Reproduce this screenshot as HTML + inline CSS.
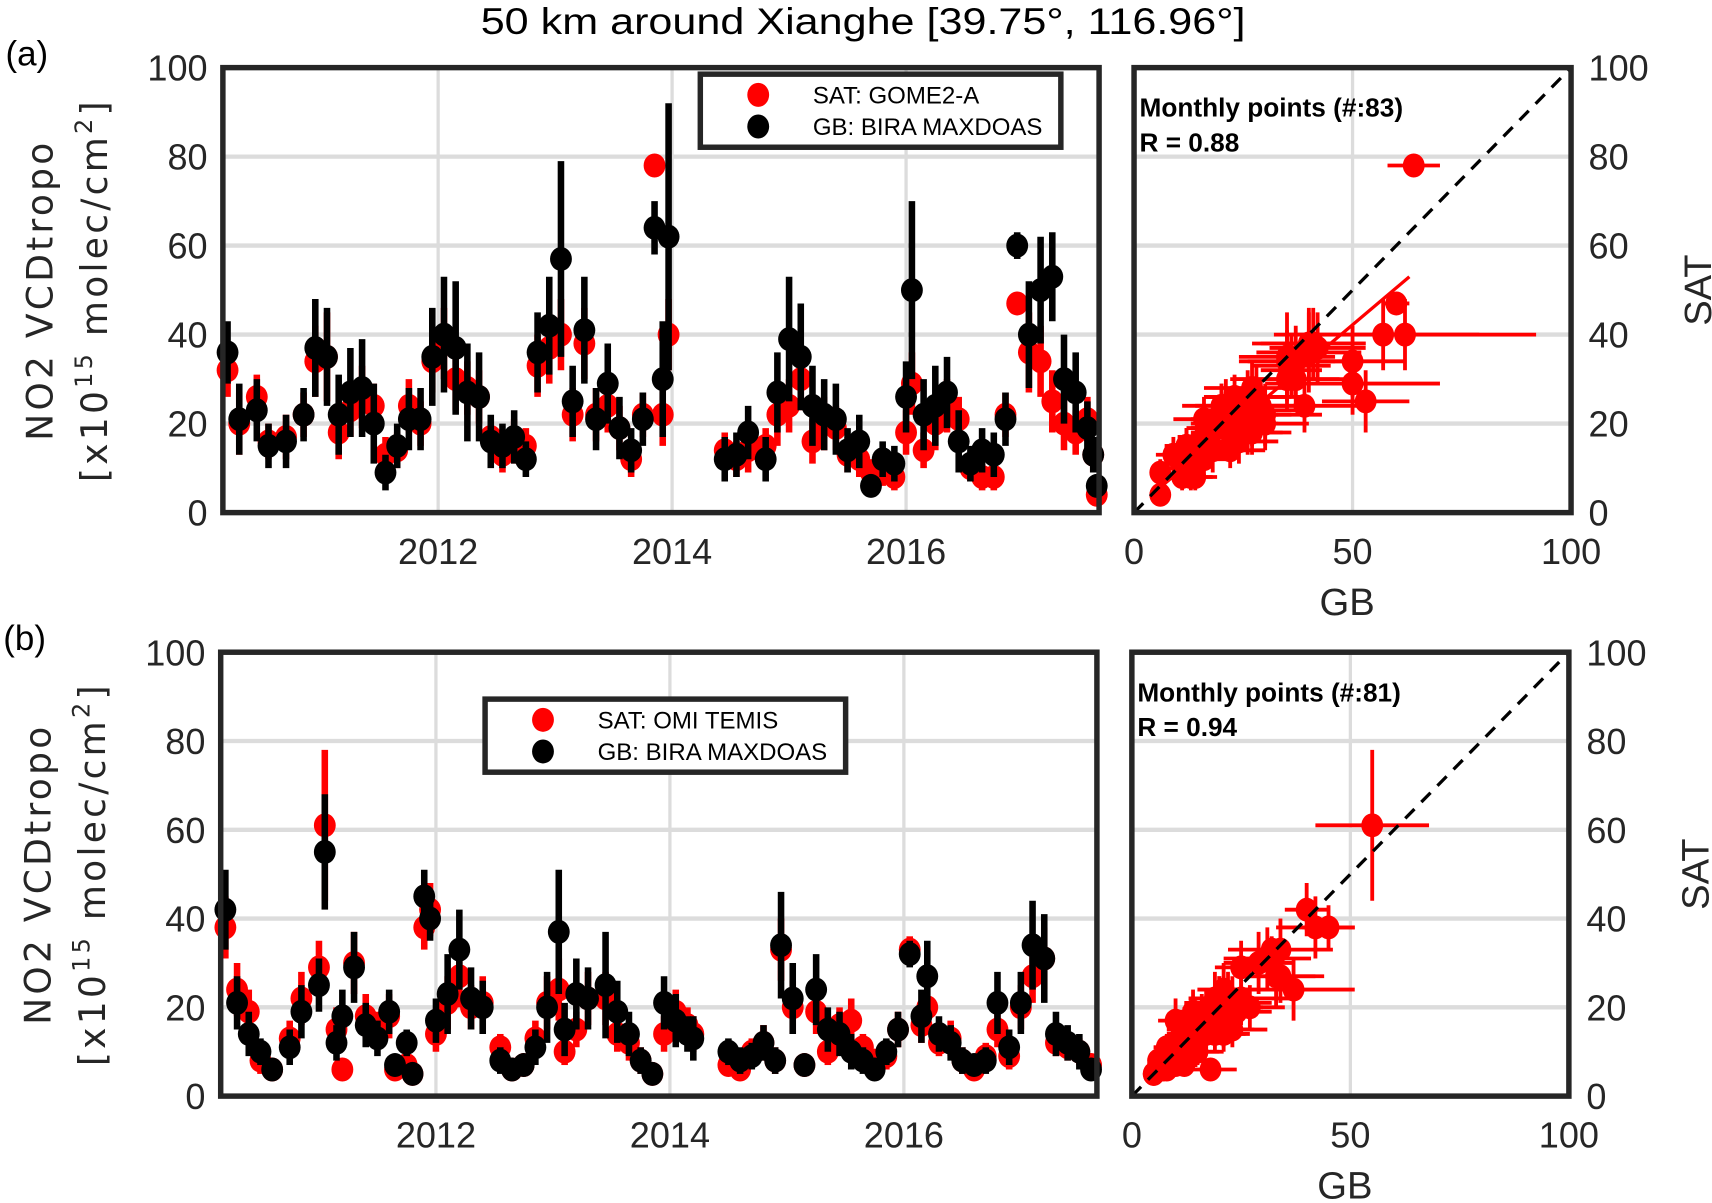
<!DOCTYPE html>
<html><head><meta charset="utf-8"><style>
html,body{margin:0;padding:0;background:#fff;width:1712px;height:1203px;overflow:hidden}
svg{display:block}
text{font-family:"Liberation Sans",sans-serif;fill:#262626}
</style></head><body>
<svg id="fig" width="1712" height="1203" viewBox="0 0 1567 1103" preserveAspectRatio="none" xmlns="http://www.w3.org/2000/svg">
<text x="440" y="31" textLength="700" lengthAdjust="spacingAndGlyphs" font-size="34" style="fill:#000">50 km around Xianghe [39.75°, 116.96°]</text>
<text x="5" y="60" font-size="32" style="fill:#000">(a)</text>
<text x="3" y="596" font-size="32" style="fill:#000">(b)</text>
</svg>
<script>
// ---- Panel (a) data: GOME2-A vs BIRA MAXDOAS ----
const datesA=[2010.2,2010.3,2010.45,2010.55,2010.7,2010.85,2010.95,2011.05,2011.15,2011.25,2011.35,2011.45,2011.55,2011.65,2011.75,2011.85,2011.95,2012.05,2012.15,2012.25,2012.35,2012.45,2012.55,2012.65,2012.75,2012.85,2012.95,2013.05,2013.15,2013.25,2013.35,2013.45,2013.55,2013.65,2013.75,2013.85,2013.92,2013.97,2014.45,2014.55,2014.65,2014.8,2014.9,2015.0,2015.1,2015.2,2015.3,2015.4,2015.5,2015.6,2015.7,2015.8,2015.9,2016.0,2016.05,2016.15,2016.25,2016.35,2016.45,2016.55,2016.65,2016.75,2016.85,2016.95,2017.05,2017.15,2017.25,2017.35,2017.45,2017.55,2017.6,2017.63];
const satA=[32,20,26,16,17,22,34,35,18,23,26,24,13,14,24,20,34,38,30,28,26,17,13,16,15,33,37,40,22,38,22,24,19,12,22,78,22,40,14,12,14,15,22,24,30,16,20,19,13,12,9,10,8,18,29,14,20,24,21,10,8,8,22,47,36,34,25,20,18,21,13,4];
const satErrA=[6,7,5,4,5,5,8,10,6,6,7,5,4,4,6,5,7,8,7,6,6,4,4,5,4,7,8,8,6,8,6,6,5,4,5,0,7,8,4,4,5,4,7,6,7,5,6,5,4,4,3,4,3,5,7,4,6,6,5,3,3,3,5,0,9,8,7,6,5,5,4,2];
const gbA=[36,21,23,15,16,22,37,35,22,27,28,20,9,15,21,21,35,40,37,27,26,16,15,17,12,36,42,57,25,41,21,29,19,14,21,64,30,62,12,13,18,12,27,39,35,24,22,21,14,16,6,12,11,26,50,22,24,27,16,11,14,13,21,60,40,50,53,30,27,19,13,6];
const gbErrA=[7,8,7,5,6,6,11,11,9,10,11,9,4,5,7,7,11,13,15,11,10,6,5,6,4,9,11,22,8,12,7,9,7,5,6,6,13,30,5,5,6,5,9,14,12,9,8,8,5,6,2,4,4,8,20,8,9,8,7,4,5,5,6,3,12,12,10,10,9,6,4,2];
// ---- Panel (b) data: OMI TEMIS vs BIRA MAXDOAS ----
const datesB=[2010.2,2010.3,2010.4,2010.5,2010.6,2010.75,2010.85,2011.0,2011.05,2011.15,2011.2,2011.3,2011.4,2011.5,2011.6,2011.65,2011.75,2011.8,2011.9,2011.95,2012.0,2012.1,2012.2,2012.3,2012.4,2012.55,2012.65,2012.75,2012.85,2012.95,2013.05,2013.1,2013.2,2013.3,2013.45,2013.55,2013.65,2013.75,2013.85,2013.95,2014.05,2014.15,2014.2,2014.5,2014.6,2014.7,2014.8,2014.9,2014.95,2015.05,2015.15,2015.25,2015.35,2015.45,2015.55,2015.65,2015.75,2015.85,2015.95,2016.05,2016.15,2016.2,2016.3,2016.4,2016.5,2016.6,2016.7,2016.8,2016.9,2017.0,2017.1,2017.2,2017.3,2017.4,2017.5,2017.6];
const satB=[38,24,19,8,6,13,22,29,61,15,6,30,18,15,18,6,7,5,38,42,14,21,27,20,21,11,6,7,13,21,24,10,15,22,22,14,12,8,5,14,19,16,14,7,6,10,12,8,33,20,7,19,10,16,17,11,8,9,15,33,16,20,12,13,8,6,9,15,9,20,27,31,12,11,10,7];
const satErrB=[7,6,5,3,2,4,6,6,17,5,2,7,5,4,5,2,2,2,5,6,4,6,7,5,6,3,2,2,4,6,7,3,4,6,6,4,4,3,2,4,5,4,4,2,2,3,4,3,7,6,2,5,3,4,5,3,2,3,4,3,4,5,3,4,3,2,3,4,3,5,6,7,3,3,3,2];
const gbB=[42,21,14,10,6,11,19,25,55,12,18,29,16,13,19,7,12,5,45,40,17,23,33,22,20,8,6,7,11,20,37,15,23,22,25,19,14,8,5,21,17,14,13,10,8,9,12,8,34,22,7,24,15,14,10,8,6,10,15,32,18,27,14,12,8,7,8,21,11,21,34,31,14,12,10,6];
const gbErrB=[9,6,5,3,2,4,6,6,13,4,6,8,5,4,5,2,3,2,6,5,5,9,9,7,6,3,2,2,4,8,14,6,8,7,12,7,5,3,2,6,6,4,5,3,3,3,4,3,12,8,2,8,5,5,4,3,2,3,4,3,6,8,4,4,3,2,3,7,4,7,10,10,5,4,4,2];

const NS="http://www.w3.org/2000/svg";
const fig=document.getElementById('fig');
function mk(tag,attrs,parent){const e=document.createElementNS(NS,tag);for(const k in attrs)e.setAttribute(k,attrs[k]);(parent||fig).appendChild(e);return e;}
const RED="#ff0000", BLK="#000000", GRID="#dcdcdc", AX="#262626";
const TF=33;

function drawPanel(p){
  const tx=t=>p.x0+(t-p.t0)/(p.t1-p.t0)*(p.x1-p.x0);
  const vy=v=>p.y1-v/100*(p.y1-p.y0);
  const g=mk('g',{});
  
  
  [20,40,60,80].forEach(v=>{const l=mk('line',{x1:p.x0,x2:p.x1,y1:vy(v),y2:vy(v),stroke:GRID,'stroke-width':4},g);
    
    });
  [2012,2014,2016].forEach(y=>{const l=mk('line',{x1:tx(y),x2:tx(y),y1:p.y0,y2:p.y1,stroke:GRID,'stroke-width':3},g);
    
    
    const t=mk('text',{x:tx(y),y:p.y1+47,'text-anchor':'middle','font-size':TF},g);t.textContent=y;
    
    });
  [0,20,40,60,80,100].forEach(v=>{const t=mk('text',{x:p.x0-14,y:vy(v)+12,'text-anchor':'end','font-size':TF},g);t.textContent=v;
    
    });
  const ser=(vals,errs,col,name)=>{
    const sg=mk('g',{},g);
    
    
    p.d.forEach((t,i)=>{const e=mk('line',{x1:tx(t),x2:tx(t),y1:vy(Math.max(0,vals[i]-errs[i])),y2:vy(vals[i]+errs[i]),stroke:col,'stroke-width':6},sg);
      
      });
    p.d.forEach((t,i)=>{const c=mk('ellipse',{cx:tx(t),cy:vy(vals[i]),rx:10,ry:11,fill:col},sg);
      
      });
  };
  ser(p.sat,p.satErr,RED,'sat-series');
  ser(p.gb,p.gbErr,BLK,'gb-series');
  const fr=mk('rect',{x:p.x0,y:p.y0,width:p.x1-p.x0,height:p.y1-p.y0,fill:'none',stroke:AX,'stroke-width':5},g);
  
  
  const yt=mk('text',{transform:`translate(${p.ylx},${(p.y0+p.y1)/2}) rotate(-90)`,'text-anchor':'middle','font-size':33,style:'font-family:"DejaVu Sans",sans-serif;letter-spacing:3px'},g);
  
  
  yt.textContent='NO2 VCDtropo';
  const yt2=mk('text',{transform:`translate(${p.ylx+50},${(p.y0+p.y1)/2}) rotate(-90)`,'text-anchor':'middle','font-size':33,style:'font-family:"DejaVu Sans",sans-serif;letter-spacing:3px'},g);
  
  
  yt2.innerHTML='[x10<tspan dy="-14" font-size="22">15</tspan><tspan dy="14"> molec/cm</tspan><tspan dy="-14" font-size="22">2</tspan><tspan dy="14">]</tspan>';
  const lg=mk('g',{},g);
  
  
  mk('rect',{x:p.lx,y:p.ly,width:330,height:67,fill:'#fff',stroke:AX,'stroke-width':5},lg);
  [[RED,p.satLabel,19],[BLK,'GB: BIRA MAXDOAS',48]].forEach(([c,l,dy])=>{
    const ent=mk('g',{},lg);
    
    
    mk('ellipse',{cx:p.lx+53,cy:p.ly+dy,rx:10,ry:11,fill:c},ent);
    const t=mk('text',{x:p.lx+103,y:p.ly+dy+8,'font-size':22},ent);t.textContent=l;t.style.fill='#000';
  });

  const sx=v=>p.sx0+v/100*(p.sx1-p.sx0);
  const sg=mk('g',{});
  
  
  [20,40,60,80].forEach(v=>{const l=mk('line',{x1:p.sx0,x2:p.sx1,y1:vy(v),y2:vy(v),stroke:GRID,'stroke-width':4},sg);
    
    });
  [50].forEach(v=>{const l=mk('line',{x1:sx(v),x2:sx(v),y1:p.y0,y2:p.y1,stroke:GRID,'stroke-width':3},sg);
    
    });
  [0,50,100].forEach(v=>{const t=mk('text',{x:sx(v),y:p.y1+47,'text-anchor':'middle','font-size':TF},sg);t.textContent=v;
    
    });
  [0,20,40,60,80,100].forEach(v=>{const t=mk('text',{x:p.sx1+16,y:vy(v)+12,'font-size':TF},sg);t.textContent=v;
    
    });
  p.gb.forEach((x,i)=>{
    const y=p.sat[i];
    const h=mk('line',{x1:sx(Math.max(0,x-p.gbErr[i])),x2:sx(x+p.gbErr[i]),y1:vy(y),y2:vy(y),stroke:RED,'stroke-width':3.5},sg);
    
    
    const v=mk('line',{x1:sx(x),x2:sx(x),y1:vy(Math.max(0,y-p.satErr[i])),y2:vy(y+p.satErr[i]),stroke:RED,'stroke-width':3.5},sg);
    
    
  });
  if(p.fit){const f=mk('line',{x1:sx(p.fit[0]),y1:vy(p.fit[1]),x2:sx(p.fit[2]),y2:vy(p.fit[3]),stroke:RED,'stroke-width':3},sg);
    
    }
  p.gb.forEach((x,i)=>{const c=mk('ellipse',{cx:sx(x),cy:vy(p.sat[i]),rx:10,ry:11,fill:RED},sg);
    
    });
  const dl=mk('line',{x1:sx(0),y1:vy(0),x2:sx(100),y2:vy(100),stroke:'#000','stroke-width':3,'stroke-dasharray':'12 9'},sg);
  
  
  const sf=mk('rect',{x:p.sx0,y:p.y0,width:p.sx1-p.sx0,height:p.y1-p.y0,fill:'none',stroke:AX,'stroke-width':5},sg);
  
  
  const a1=mk('text',{x:p.sx0+5,y:p.y0+45,'font-size':24,'font-weight':'bold'},sg);a1.textContent=p.count;a1.style.fill='#000';
  
  
  const a2=mk('text',{x:p.sx0+5,y:p.y0+77,'font-size':24,'font-weight':'bold'},sg);a2.textContent=p.r;a2.style.fill='#000';
  
  
  const gx=mk('text',{x:sx(50)-5,y:p.y1+94,'text-anchor':'middle','font-size':35},sg);gx.textContent='GB';
  
  
  const sy=mk('text',{transform:`translate(${p.sx1+128},${(p.y0+p.y1)/2}) rotate(-90)`,'text-anchor':'middle','font-size':35},sg);sy.textContent='SAT';
  
  
}

drawPanel({id:'panel-a',x0:204,x1:1006,y0:62,y1:470,t0:2010.16,t1:2017.65,d:datesA,sat:satA,satErr:satErrA,gb:gbA,gbErr:gbErrA,
  ylx:48,lx:641,ly:68,satLabel:'SAT: GOME2-A',sx0:1038,sx1:1438,count:'Monthly points (#:83)',r:'R = 0.88',fit:[4,4,63,53]});
drawPanel({id:'panel-b',x0:202,x1:1004,y0:598,y1:1005,t0:2010.16,t1:2017.65,d:datesB,sat:satB,satErr:satErrB,gb:gbB,gbErr:gbErrB,
  ylx:46,lx:444,ly:641,satLabel:'SAT: OMI TEMIS',sx0:1036,sx1:1436,count:'Monthly points (#:81)',r:'R = 0.94',fit:null});
</script>
</body></html>
